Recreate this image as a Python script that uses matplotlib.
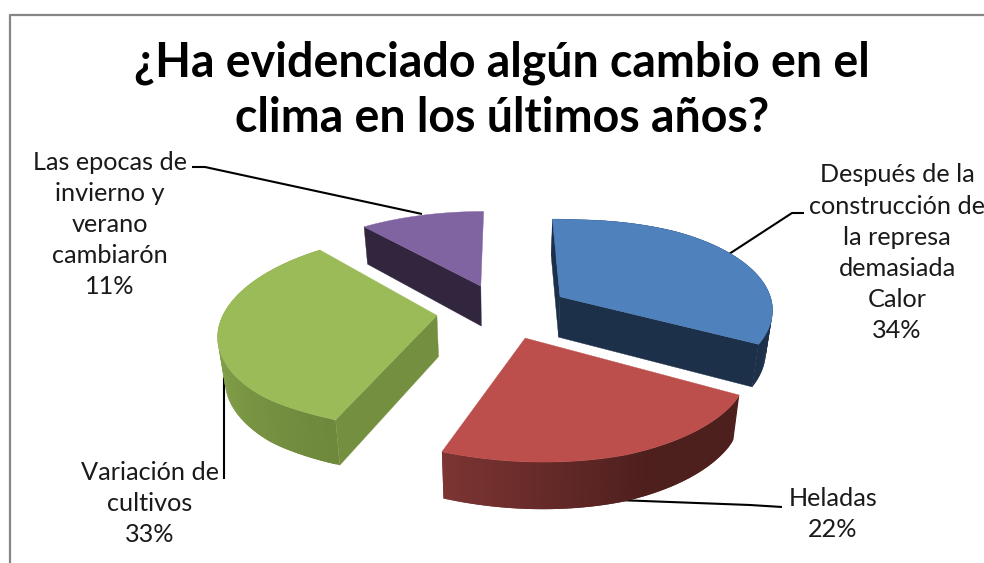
import numpy as np
import matplotlib
matplotlib.use("Agg")
import matplotlib.pyplot as plt
from matplotlib.colors import to_rgb

title = "¿Ha evidenciado algún cambio en el\nclima en los últimos años?"
categories = ["Después de la\nconstrucción de\nla represa\ndemasiada\nCalor",
              "Heladas",
              "Variación de\ncultivos",
              "Las epocas de\ninvierno y\nverano\ncambiarón"]
values = [34, 22, 33, 11]

top_colors = ["#4F81BD", "#BC4F4C", "#9BBB59", "#8064A2"]
cut_colors = ["#1D3049", "#4D1F1D", "#758F41", "#32263F"]
arc_start = ["#1D3049", "#4D1F1D", "#6E883C", "#32263F"]
arc_end = ["#1D3049", "#7D3533", "#8BAB50", "#32263F"]
arc_ramp = [(0.0, 1.0), (0.42, 1.0), (0.0, 0.6), (0.0, 1.0)]
arc_visible = [True, True, True, False]
cut_visible = [(True, True), (False, False), (True, False), (True, False)]
slice_nudge = [(0, 0), (0, 0), (-2, 1), (-2, 1.5)]

label_centers = [(897, 175), (833, 498), (150, 472), (110, 162)]
leaders = [[(726, 256), (792, 213), (804, 213)],
           [(617, 500), (750, 505), (782, 507)],
           [(224, 377), (224, 479)],
           [(192, 167), (205, 167), (422, 214)]]

CX, CY, A, B, K, DEPTH, EXPLODE, BOTTOM_X = 504, 310, 218, 94, 0.16, 41, 0.30, 0.975
FRONT_SKEW, SIDE_PINCH, RIGHT_TILT = 30, 14, 7
LINE_H = 31.2

plt.rcParams["font.family"] = ["Lato", "DejaVu Sans"]
fig = plt.figure(figsize=(9.84, 5.63), dpi=100, facecolor="white")
ax = fig.add_axes([0, 0, 1, 1])
ax.set_xlim(0, 984)
ax.set_ylim(563, 0)
ax.axis("off")


def project(X, Y, bottom=False):
    X, Y = np.asarray(X, float), np.asarray(Y, float)
    s = 1 / (1 + K * Y)
    sx = A * X * s
    sx = sx - SIDE_PINCH * np.sign(X) * np.maximum(0, np.abs(X) - 0.9)
    sx = sx + FRONT_SKEW * np.maximum(0, -Y - 0.8)
    sy = -B * Y * s - RIGHT_TILT * np.maximum(0, X - 0.4)
    if bottom:
        return CX + BOTTOM_X * sx, CY + sy + DEPTH * s ** 0.6
    return CX + sx, CY + sy


def lerp(c0, c1, t):
    a, b = np.array(to_rgb(c0)), np.array(to_rgb(c1))
    return tuple(a + (b - a) * t)


cum = np.cumsum([0] + values) / sum(values) * 2 * np.pi
order = [3, 0, 2, 1]  # back to front
for i in order:
    a0, a1 = cum[i], cum[i + 1]
    mid = (a0 + a1) / 2
    ex, ey = EXPLODE * np.sin(mid), EXPLODE * np.cos(mid)
    th = np.linspace(a0, a1, 121)
    X = ex + np.sin(th)
    Y = ey + np.cos(th)
    nx, ny = slice_nudge[i]

    # outer face, shaded along the arc; each band overlaps the next to hide seams
    tx, ty = project(X, Y)
    bx, by = project(X, Y, bottom=True)
    tx, ty, bx, by = tx + nx, ty + ny, bx + nx, by + ny
    r0, r1 = arc_ramp[i]
    n = len(th)
    if arc_visible[i]:
        for j in range(n - 2, -1, -1):
            t = np.clip((j / (n - 2) - r0) / (r1 - r0), 0, 1)
            c = lerp(arc_start[i], arc_end[i], t)
            k = min(j + 2, n - 1)
            ax.fill([tx[j], tx[k], bx[k], bx[j]], [ty[j], ty[k], by[k], by[j]],
                    color=c, lw=0, zorder=2)

    # cut faces that show
    for vis, (px, py) in zip(cut_visible[i], [(X[0], Y[0]), (X[-1], Y[-1])]):
        if vis:
            qx, qy = project([ex, px], [ey, py])
            bx2, by2 = project([ex, px], [ey, py], bottom=True)
            ax.fill(np.r_[qx, bx2[::-1]] + nx, np.r_[qy, by2[::-1]] + ny,
                    color=cut_colors[i], lw=0.3, zorder=2.5)

    # top face
    ox, oy = project([ex], [ey])
    ax.fill(np.r_[ox + nx, tx], np.r_[oy + ny, ty], color=top_colors[i], lw=0.3, zorder=3)

for pts in leaders:
    xs, ys = zip(*pts)
    ax.plot(xs, ys, color="black", lw=1.5, zorder=1, solid_capstyle="butt")

# frame
ax.plot([9.5, 9.5, 990], [570, 14.5, 14.5], color="#868686", lw=1.6, zorder=1, clip_on=False)

ax.text(502, 63, title.split("\n")[0], ha="center", va="center", fontsize=33.5, fontweight="bold", color="black")
ax.text(502, 118, title.split("\n")[1], ha="center", va="center", fontsize=33.5, fontweight="bold", color="black")

for cat, v, (x, y) in zip(categories, values, label_centers):
    lines = cat.split("\n") + [f"{v}%"]
    for n, line in enumerate(lines):
        ax.text(x, y + n * LINE_H, line, ha="center", va="center", fontsize=18.2, color="#1a1a1a")

fig.savefig("out.png", dpi=100)
